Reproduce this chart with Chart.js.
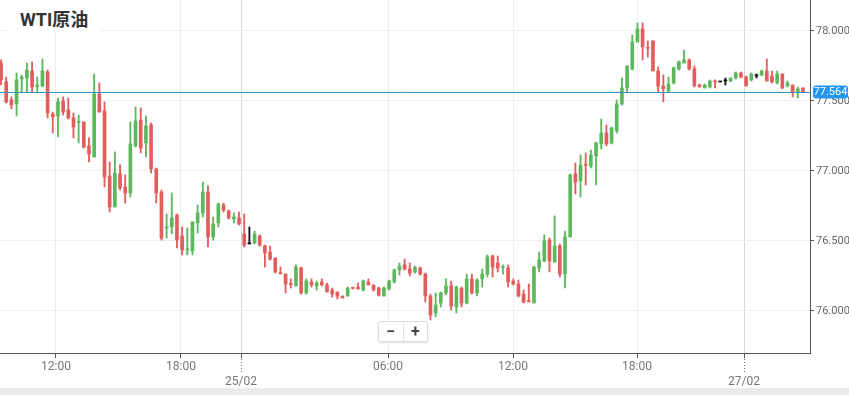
<!DOCTYPE html>
<html lang="zh">
<head>
	<meta charset="utf-8">
	<title>WTI原油</title>
	<style>
		html, body { margin: 0; padding: 0; background: #ebebeb; }
		#wrap { position: relative; width: 849px; height: 388px; background: #fff; }
		#title {
			position: absolute; left: 8px; top: 0; width: 92px; height: 33px;
			padding-left: 12px; box-sizing: border-box; background: #fff;
			font: bold 18px Roboto, "Noto Sans CJK SC", sans-serif; line-height: 40px; color: #333;
		}
		#zoomBox {
			position: absolute; left: 378px; top: 321px; width: 50px; height: 21px;
			border: 1px solid #ddd; border-radius: 2px; background: #fff; box-sizing: border-box;
			box-shadow: 0 1px 2px rgba(0,0,0,0.12); display: flex;
			font: bold 16px Roboto, sans-serif; color: #444;
		}
		#zoomBox span { flex: 1; text-align: center; line-height: 19px; }
		#zoomBox span + span { border-left: 1px solid #e5e5e5; }
	</style>
</head>
<body>
	<div id="wrap">
		<canvas id="wtiChart" width="849" height="388"></canvas>
		<div id="title">WTI原油</div>
		<div id="zoomBox"><span>−</span><span>+</span></div>
	</div>

	<script src="https://cdn.jsdelivr.net/npm/chart.js@4.4.1/dist/chart.umd.min.js"></script>
	<script>
		// 15分钟K线 (开, 高, 低, 收)
		const opens = [77.771,77.636,77.507,77.479,77.657,77.664,77.714,77.600,77.607,77.707,
			77.407,77.393,77.500,77.436,77.379,77.347,77.350,77.179,77.100,77.550,
			77.429,76.964,76.743,76.979,76.886,76.843,77.179,77.364,77.200,77.329,
			77.014,76.850,76.593,76.600,76.686,76.536,76.436,76.429,76.629,76.700,
			76.850,76.529,76.629,76.757,76.714,76.657,76.664,76.550,76.479,76.486,
			76.536,76.464,76.421,76.379,76.271,76.264,76.193,76.179,76.307,76.129,
			76.207,76.179,76.207,76.186,76.150,76.136,76.107,76.107,76.164,76.171,
			76.150,76.207,76.186,76.164,76.107,76.157,76.207,76.293,76.329,76.300,
			76.279,76.307,76.264,76.107,75.986,76.057,76.129,76.179,76.029,76.164,
			76.057,76.229,76.129,76.229,76.264,76.393,76.343,76.311,76.307,76.214,
			76.193,76.121,76.071,76.057,76.307,76.357,76.507,76.350,76.464,76.264,
			76.529,76.979,76.929,77.043,77.036,77.107,77.193,77.271,77.200,77.286,
			77.479,77.593,77.729,77.921,78.014,77.879,77.929,77.714,77.607,77.571,
			77.629,77.729,77.771,77.793,77.729,77.614,77.593,77.600,77.643,77.636,
			77.643,77.643,77.664,77.700,77.671,77.650,77.679,77.686,77.714,77.679,
			77.629,77.693,77.607,77.614,77.564,77.593];
		const highs = [77.793,77.671,77.529,77.700,77.686,77.771,77.779,77.671,77.800,77.721,
			77.421,77.521,77.529,77.521,77.414,77.400,77.350,77.236,77.693,77.629,
			77.493,77.064,77.136,77.043,76.971,77.350,77.457,77.450,77.393,77.343,
			77.021,76.864,76.693,76.843,76.693,76.600,76.593,76.636,76.757,76.921,
			76.893,76.671,76.771,76.771,76.721,76.700,76.707,76.693,76.600,76.571,
			76.543,76.471,76.464,76.379,76.314,76.264,76.229,76.329,76.314,76.229,
			76.229,76.214,76.229,76.200,76.164,76.136,76.107,76.171,76.171,76.200,
			76.221,76.229,76.186,76.171,76.171,76.221,76.300,76.343,76.371,76.343,
			76.321,76.314,76.271,76.121,76.129,76.136,76.229,76.214,76.179,76.171,
			76.264,76.264,76.229,76.300,76.400,76.400,76.393,76.329,76.329,76.229,
			76.221,76.150,76.193,76.321,76.421,76.543,76.521,76.679,76.479,76.571,
			76.979,77.057,77.114,77.129,77.150,77.207,77.371,77.329,77.314,77.507,
			77.664,77.750,77.971,78.057,78.057,77.929,77.929,77.743,77.686,77.671,
			77.743,77.786,77.864,77.800,77.750,77.621,77.621,77.650,77.650,77.636,
			77.664,77.664,77.707,77.707,77.679,77.700,77.693,77.721,77.800,77.714,
			77.714,77.693,77.643,77.614,77.600,77.593];
		const lows = [77.614,77.486,77.443,77.393,77.564,77.564,77.564,77.557,77.600,77.379,
			77.271,77.243,77.400,77.371,77.236,77.200,77.164,77.064,77.100,77.421,
			76.886,76.707,76.743,76.864,76.771,76.814,77.171,77.129,77.100,76.986,
			76.771,76.507,76.521,76.550,76.450,76.400,76.400,76.400,76.557,76.671,
			76.457,76.507,76.600,76.707,76.657,76.629,76.614,76.457,76.479,76.479,
			76.464,76.314,76.364,76.271,76.264,76.129,76.164,76.179,76.121,76.121,
			76.171,76.150,76.179,76.136,76.100,76.086,76.093,76.107,76.157,76.157,
			76.143,76.186,76.143,76.107,76.107,76.150,76.200,76.257,76.293,76.250,
			76.271,76.257,76.064,75.936,75.957,76.029,76.114,76.007,75.986,76.029,
			76.050,76.121,76.107,76.171,76.243,76.243,76.279,76.264,76.171,76.186,
			76.100,76.057,76.064,76.057,76.279,76.350,76.279,76.350,76.243,76.164,
			76.529,76.836,76.814,76.900,77.021,76.900,77.157,77.179,77.193,77.271,
			77.471,77.564,77.721,77.921,77.793,77.814,77.714,77.564,77.493,77.564,
			77.621,77.721,77.771,77.721,77.600,77.600,77.593,77.593,77.593,77.636,
			77.614,77.636,77.657,77.664,77.607,77.643,77.664,77.679,77.643,77.629,
			77.621,77.586,77.600,77.529,77.521,77.557];
		const closes = [77.650,77.493,77.471,77.650,77.671,77.721,77.600,77.614,77.714,77.414,
			77.386,77.493,77.421,77.379,77.314,77.350,77.171,77.121,77.550,77.421,
			76.957,76.743,76.986,76.879,76.843,77.193,77.357,77.164,77.321,77.014,
			76.843,76.521,76.600,76.664,76.507,76.436,76.443,76.636,76.700,76.850,
			76.529,76.621,76.764,76.721,76.664,76.671,76.621,76.471,76.479,76.550,
			76.471,76.414,76.371,76.279,76.266,76.193,76.189,76.314,76.129,76.214,
			76.186,76.200,76.186,76.136,76.121,76.107,76.093,76.164,76.161,76.157,
			76.214,76.186,76.150,76.114,76.164,76.214,76.293,76.321,76.300,76.271,
			76.314,76.264,76.107,75.971,76.043,76.129,76.179,76.036,76.171,76.057,
			76.229,76.129,76.221,76.264,76.386,76.314,76.307,76.314,76.207,76.193,
			76.107,76.064,76.067,76.314,76.364,76.500,76.357,76.464,76.264,76.529,
			76.971,76.921,77.043,77.040,77.114,77.200,77.271,77.193,77.307,77.479,
			77.593,77.750,77.921,78.014,77.886,77.876,77.714,77.607,77.586,77.621,
			77.736,77.779,77.793,77.729,77.607,77.600,77.614,77.643,77.636,77.636,
			77.643,77.664,77.700,77.671,77.607,77.693,77.679,77.714,77.643,77.636,
			77.693,77.593,77.629,77.564,77.586,77.564];
		const lastPrice = 77.564;

		// 横轴刻度 (以K线序号计) 与标签
		const xTickPos = [10.62, 34.78, 46.38, 74.79, 98.95, 122.92, 143.6];
		const xTickLabels = ['12:00', '18:00', ['', '25/02'], '06:00', '12:00', '18:00', ['', '27/02']];
		const yTicks = [76.0, 76.5, 77.0, 77.5, 78.0];

		const UP = '#5cb85c', DOWN = '#e35d5d', FLAT = '#111';
		function candleColor(i) {
			if (closes[i] > opens[i]) return UP;
			if (closes[i] < opens[i]) return DOWN;
			return FLAT;
		}
		const isDay = i => Array.isArray(xTickLabels[i]);

		const priceLine = {
			id: 'priceLine',
			afterDraw(chart) {
				const { ctx, chartArea, scales: { x, y } } = chart;
				const py = Math.round(y.getPixelForValue(lastPrice)) + 0.5;
				ctx.save();
				ctx.strokeStyle = '#3592c4';
				ctx.lineWidth = 1;
				ctx.beginPath();
				ctx.moveTo(chartArea.left, py);
				ctx.lineTo(chartArea.right + 1, py);
				ctx.stroke();

				// 当前价格标签
				const bx = chartArea.right + 3;
				ctx.fillStyle = '#2196f3';
				ctx.beginPath();
				ctx.roundRect(bx, py - 7, chart.width - bx - 1, 13, 3);
				ctx.fill();
				ctx.fillStyle = '#fff';
				ctx.font = '11px Roboto, sans-serif';
				ctx.textAlign = 'center';
				ctx.textBaseline = 'middle';
				ctx.fillText(lastPrice.toFixed(3), bx + (chart.width - bx - 1) / 2, py);

				// 日期刻度下方虚线
				ctx.strokeStyle = '#666';
				ctx.setLineDash([1, 2]);
				xTickPos.forEach((v, i) => {
					if (!isDay(i)) return;
					const px = Math.round(x.getPixelForValue(v)) + 0.5;
					ctx.beginPath();
					ctx.moveTo(px, chartArea.bottom + 6);
					ctx.lineTo(px, chartArea.bottom + 20);
					ctx.stroke();
				});
				ctx.restore();
			}
		};

		document.addEventListener('DOMContentLoaded', function() {
			Chart.defaults.font.family = 'Roboto, "Noto Sans", sans-serif';
			const idx = opens.map((_, i) => i);
			const ctx = document.getElementById('wtiChart').getContext('2d');

			new Chart(ctx, {
				type: 'bar',
				data: {
					datasets: [{
						label: 'wick',
						data: idx.map(i => ({ x: i, y: [lows[i], highs[i]] })),
						backgroundColor: c => candleColor(c.dataIndex),
						barThickness: 1.2,
						grouped: false,
						order: 2
					}, {
						label: 'body',
						data: idx.map(i => ({ x: i, y: [opens[i], closes[i]] })),
						backgroundColor: c => candleColor(c.dataIndex),
						barThickness: 3,
						minBarLength: 1,
						grouped: false,
						order: 1
					}]
				},
				options: {
					responsive: false,
					animation: false,
					layout: { padding: 0 },
					plugins: {
						legend: { display: false },
						tooltip: { enabled: false }
					},
					scales: {
						x: {
							type: 'linear',
							offset: false,
							min: -0.2,
							max: 156.35,
							afterBuildTicks: axis => { axis.ticks = xTickPos.map(v => ({ value: v })); },
							afterFit: s => {
								s.height = 35;
								s.paddingLeft = 0;
								s.paddingRight = 0;
							},
							ticks: {
								autoSkip: false,
								maxRotation: 0,
								padding: 2,
								color: '#777',
								font: { size: 12 },
								callback: (v, i) => xTickLabels[i]
							},
							grid: {
								offset: false,
								color: c => isDay(c.index) ? '#d6d6d6' : '#eeeeee',
								tickColor: '#555',
								tickLength: 5
							},
							border: { color: '#555' }
						},
						y: {
							position: 'right',
							min: 75.7,
							max: 78.221,
							afterBuildTicks: axis => { axis.ticks = yTicks.map(v => ({ value: v })); },
							afterFit: s => {
								s.width = 39;
								s.paddingTop = 0;
								s.paddingBottom = 0;
							},
							ticks: {
								padding: 2,
								color: '#666',
								font: { size: 11 },
								callback: v => v.toFixed(3)
							},
							grid: { color: '#eeeeee', tickColor: '#555', tickLength: 4 },
							border: { color: '#555' }
						}
					}
				},
				plugins: [priceLine]
			});
		});
	</script>
</body>
</html>
